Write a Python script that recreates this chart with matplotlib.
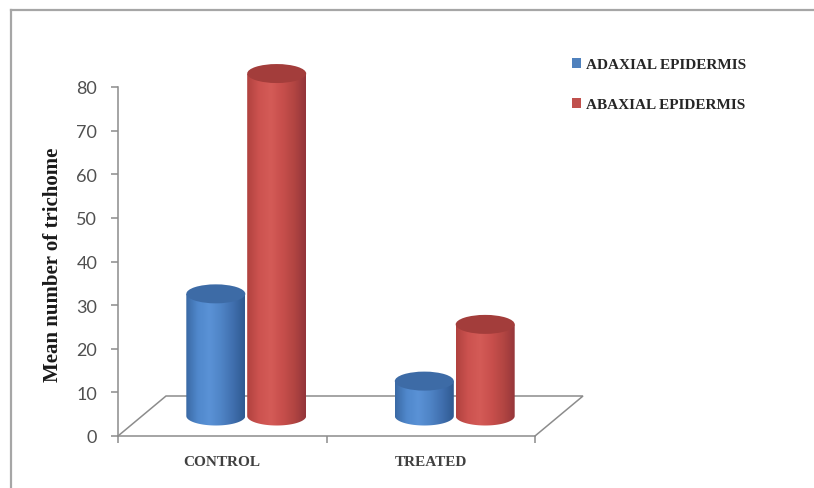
import numpy as np
import matplotlib
matplotlib.use("Agg")
import matplotlib.pyplot as plt
from matplotlib.patches import Ellipse, PathPatch, Patch
from matplotlib.path import Path
from matplotlib.lines import Line2D
from matplotlib.colors import LinearSegmentedColormap

# Data
groups = ["CONTROL", "TREATED"]
series = ["ADAXIAL EPIDERMIS", "ABAXIAL EPIDERMIS"]
adaxial = [28, 8]
abaxial = [78.5, 21]
yticks = [0, 10, 20, 30, 40, 50, 60, 70, 80]

# Styling
W, H = 814, 489
fig = plt.figure(figsize=(W / 100, H / 100), dpi=100)
fig.patch.set_facecolor("white")

# axes geometry (pixels)
x0_px, y0_px = 118, 437
unit_x_px = 208.5      # pixels per category unit
unit_y_px = 4.3625     # pixels per value unit
top_px = 40
xmin, xmax = -0.5, 2.0
ax = fig.add_axes([x0_px / W, (H - y0_px) / H,
                   (xmax - xmin) * unit_x_px / W, (y0_px - top_px) / H])
ymax = (y0_px - top_px) / unit_y_px
ax.set_xlim(xmin, xmax)
ax.set_ylim(0, ymax)
ax.patch.set_alpha(0)

grey = "#8c8c8c"
for s in ("top", "right"):
    ax.spines[s].set_visible(False)
ax.spines["left"].set_bounds(0, 80)
ax.spines["bottom"].set_bounds(-0.5, 1.5)
for s in ("left", "bottom"):
    ax.spines[s].set_color(grey)
    ax.spines[s].set_linewidth(1.1)

ax.set_yticks(yticks)
ax.set_yticklabels([str(t) for t in yticks], family="Lato", fontsize=13, color="#505050")
ax.tick_params(axis="y", direction="out", length=5, width=1.1, color=grey, pad=10)
ax.set_xticks([-0.5, 0.5, 1.5])
ax.set_xticklabels(["", "", ""])
ax.tick_params(axis="x", direction="out", length=5, width=1.1, color=grey)
ax.set_xticks([0, 1], minor=True)
ax.set_xticklabels(groups, minor=True, family="Liberation Serif", fontweight="bold",
                   fontsize=11, color="#404040")
ax.tick_params(axis="x", which="minor", length=0, pad=14)

# floor of the 3-D plot
dx = 48 / unit_x_px
dy = 40 / unit_y_px
ax.plot([-0.5, -0.5 + dx, 1.5 + dx, 1.5], [0, dy, dy, 0], color=grey, lw=1.1,
        clip_on=False, zorder=1, solid_joinstyle="miter")

# cylinders
rw = 29.5 / unit_x_px
ry = 9.5 / unit_y_px
offset = 0.146
base = dy / 2

blue_cmap = LinearSegmentedColormap.from_list(
    "blue", ["#3a69a4", "#5088cc", "#5a92d6", "#4f84c6", "#406fae", "#2f5a91"])
red_cmap = LinearSegmentedColormap.from_list(
    "red", ["#b0423f", "#cc524f", "#d45b57", "#c84f4c", "#b24542", "#93353a"])
top_colors = {"blue": "#3d6ba6", "red": "#a33d3b"}

grad = np.linspace(0, 1, 256).reshape(1, -1)


def cylinder(cx, value, cmap, topc):
    top = base + value
    th = np.linspace(np.pi, 2 * np.pi, 60)
    xs = list(cx + rw * np.cos(th)) + [cx + rw, cx - rw]
    ys = list(base + ry * np.sin(th)) + [top, top]
    verts = list(zip(xs, ys)) + [(xs[0], ys[0])]
    codes = [Path.MOVETO] + [Path.LINETO] * (len(verts) - 2) + [Path.CLOSEPOLY]
    body = PathPatch(Path(verts, codes), facecolor="none", edgecolor="none",
                     transform=ax.transData)
    ax.add_patch(body)
    im = ax.imshow(grad, cmap=cmap, aspect="auto", interpolation="bilinear",
                   extent=[cx - rw, cx + rw, base - ry, top], zorder=2)
    im.set_clip_path(body)
    ax.add_patch(Ellipse((cx, top), 2 * rw, 2 * ry, facecolor=topc,
                         edgecolor="none", zorder=2.1))


for i in range(len(groups)):
    cx = i + dx / 2
    cylinder(cx - offset, adaxial[i], blue_cmap, top_colors["blue"])
    cylinder(cx + offset, abaxial[i], red_cmap, top_colors["red"])

ax.set_xlim(xmin, xmax)
ax.set_ylim(0, ymax)

# axis title
fig.text(53 / W, 1 - 265 / H, "Mean number of trichome", rotation=90,
         ha="center", va="center", family="Liberation Serif", fontweight="bold",
         fontsize=15, color="#1a1a1a")

# legend
handles = [Patch(facecolor="#4f81bd", edgecolor="none"),
           Patch(facecolor="#c0504d", edgecolor="none")]
leg = fig.legend(handles, series, loc="upper left",
                 bbox_to_anchor=(566 / W, 1 - 53 / H), frameon=False,
                 handlelength=0.6, handleheight=0.6, handletextpad=0.3,
                 labelspacing=1.75, borderaxespad=0,
                 prop={"family": "Liberation Serif", "weight": "bold", "size": 11})
for t in leg.get_texts():
    t.set_color("#262626")

# chart frame
frame_c = "#a6a6a6"
fig.add_artist(Line2D([11 / W, 1.0], [1 - 11 / H, 1 - 11 / H],
                      transform=fig.transFigure, color=frame_c, lw=1.6))
fig.add_artist(Line2D([11 / W, 11 / W], [0, 1 - 11 / H],
                      transform=fig.transFigure, color=frame_c, lw=1.6))

fig.savefig("out.png", dpi=100)
